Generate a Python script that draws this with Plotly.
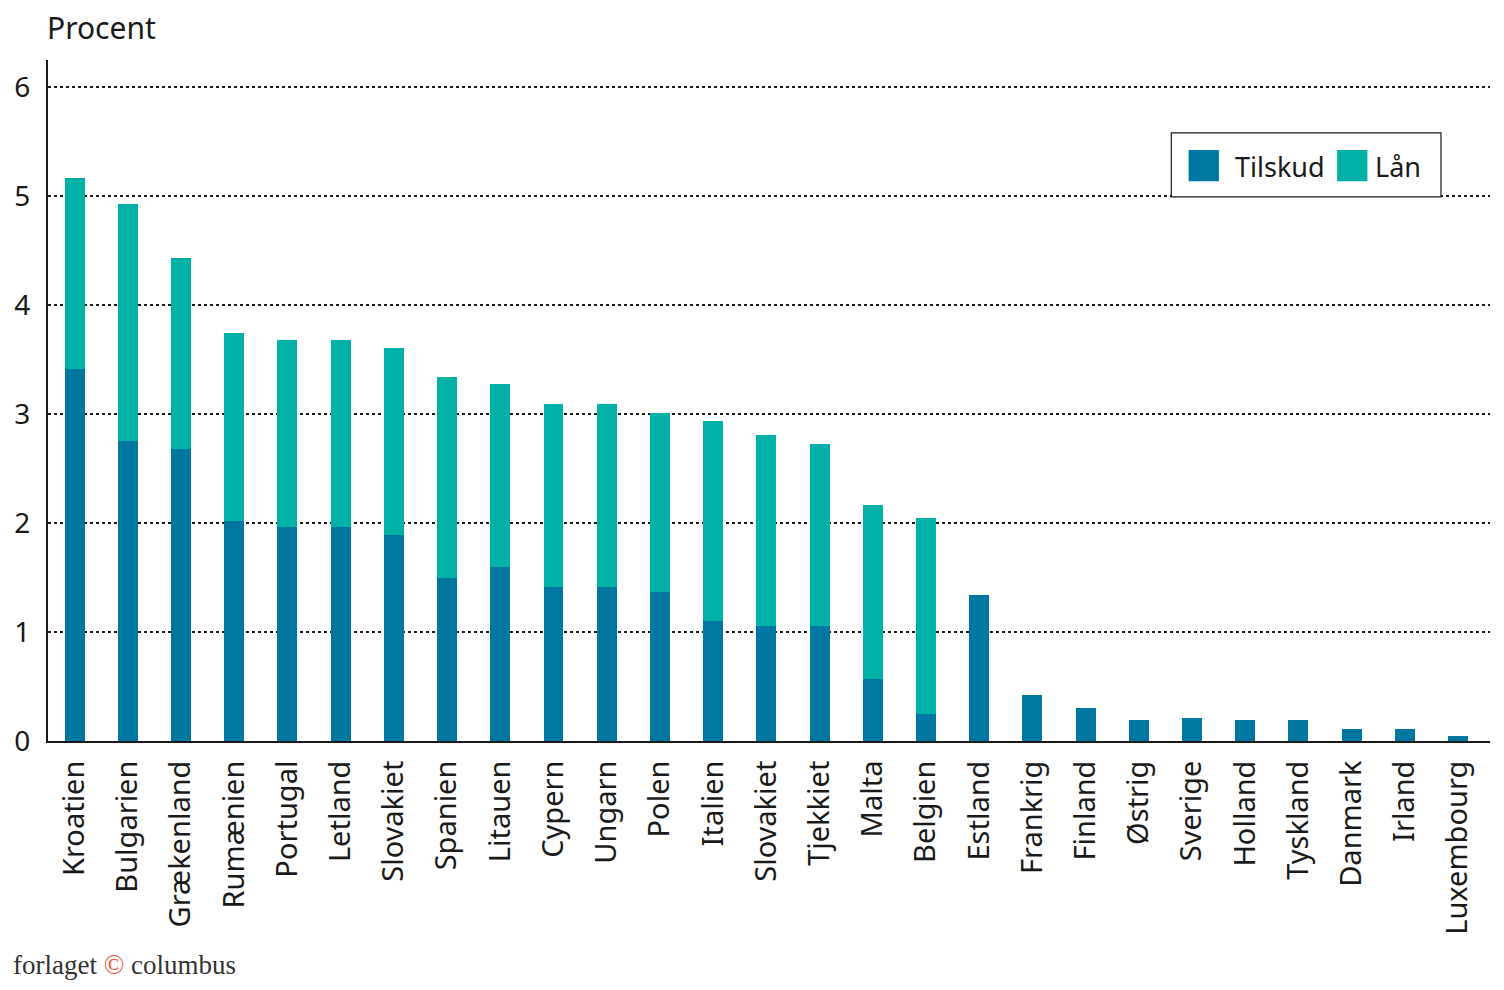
import plotly.graph_objects as go

countries = ["Kroatien", "Bulgarien", "Grækenland", "Rumænien", "Portugal", "Letland",
             "Slovakiet", "Spanien", "Litauen", "Cypern", "Ungarn", "Polen", "Italien",
             "Slovakiet", "Tjekkiet", "Malta", "Belgien", "Estland", "Frankrig", "Finland",
             "Østrig", "Sverige", "Holland", "Tyskland", "Danmark", "Irland", "Luxembourg"]
tilskud = [3.41, 2.75, 2.68, 2.02, 1.96, 1.96, 1.89, 1.50, 1.60, 1.41, 1.41, 1.37, 1.10,
           1.06, 1.06, 0.57, 0.25, 1.34, 0.42, 0.30, 0.19, 0.21, 0.19, 0.19, 0.11, 0.11, 0.045]
total = [5.17, 4.93, 4.43, 3.74, 3.68, 3.68, 3.61, 3.34, 3.28, 3.09, 3.09, 3.01, 2.94,
         2.81, 2.73, 2.17, 2.05, 1.34, 0.42, 0.30, 0.19, 0.21, 0.19, 0.19, 0.11, 0.11, 0.045]
laan = [round(t - s, 3) for t, s in zip(total, tilskud)]
yticks = [0, 1, 2, 3, 4, 5, 6]
series_names = ["Tilskud", "Lån"]
series_colors = ["#0077A1", "#00B1A7"]

x = list(range(len(countries)))
FONT = "Noto Sans"
TXT = "#1a1a1a"

fig = go.Figure()
for name, vals, col in zip(series_names, [tilskud, laan], series_colors):
    fig.add_trace(go.Bar(x=x, y=vals, name=name, marker_color=col,
                         marker_line_width=0, width=0.375, showlegend=False))

fig.update_layout(
    width=1488, height=974,
    barmode="stack",
    plot_bgcolor="white", paper_bgcolor="white",
    margin=dict(l=38, r=6, t=52, b=241),
    font=dict(family=FONT, size=28, color=TXT),
    showlegend=False,
)
fig.update_xaxes(
    range=[-0.5, 26.6], tickmode="array", tickvals=x, ticktext=countries,
    tickangle=-90, showline=True, linecolor=TXT, linewidth=2,
    ticks="", showgrid=False, zeroline=False, tickfont=dict(size=29),
    ticklabelstandoff=6,
)
fig.update_yaxes(
    range=[0, 6.25], tickmode="array", tickvals=yticks,
    showline=True, linecolor=TXT, linewidth=2, ticks="",
    showgrid=True, gridcolor=TXT, griddash="dot", gridwidth=1.6,
    zeroline=False, tickfont=dict(size=28), ticklabelstandoff=10,
)

# legend box drawn manually (large square keys as in the original)
fig.add_shape(type="rect", xref="paper", yref="paper", x0=0.779, x1=0.966,
              y0=0.799, y1=0.893, line=dict(color=TXT, width=1.2), fillcolor="white",
              layer="above")
key_x = [(0.791, 0.812), (0.894, 0.915)]
text_x = [0.822, 0.919]
for (kx0, kx1), tx, name, col in zip(key_x, text_x, series_names, series_colors):
    fig.add_shape(type="rect", xref="paper", yref="paper", x0=kx0, x1=kx1,
                  y0=0.822, y1=0.868, line=dict(width=0), fillcolor=col, layer="above")
    fig.add_annotation(text=name, xref="paper", yref="paper", x=tx, y=0.843,
                       xanchor="left", yanchor="middle", showarrow=False,
                       font=dict(size=27, family=FONT, color=TXT))

fig.add_annotation(text="Procent", xref="paper", yref="paper", x=0, y=1,
                   xanchor="left", yanchor="middle", yshift=33, xshift=-3,
                   showarrow=False, font=dict(size=30, family=FONT, color=TXT))
fig.add_annotation(
    text="forlaget <span style='color:#E8573B'>©</span> columbus",
    xref="paper", yref="paper", x=-0.026, y=0, xanchor="left", yanchor="middle",
    yshift=-224, showarrow=False,
    font=dict(size=27, family="Liberation Serif", color="#333333"))

fig.write_html("out.html")
